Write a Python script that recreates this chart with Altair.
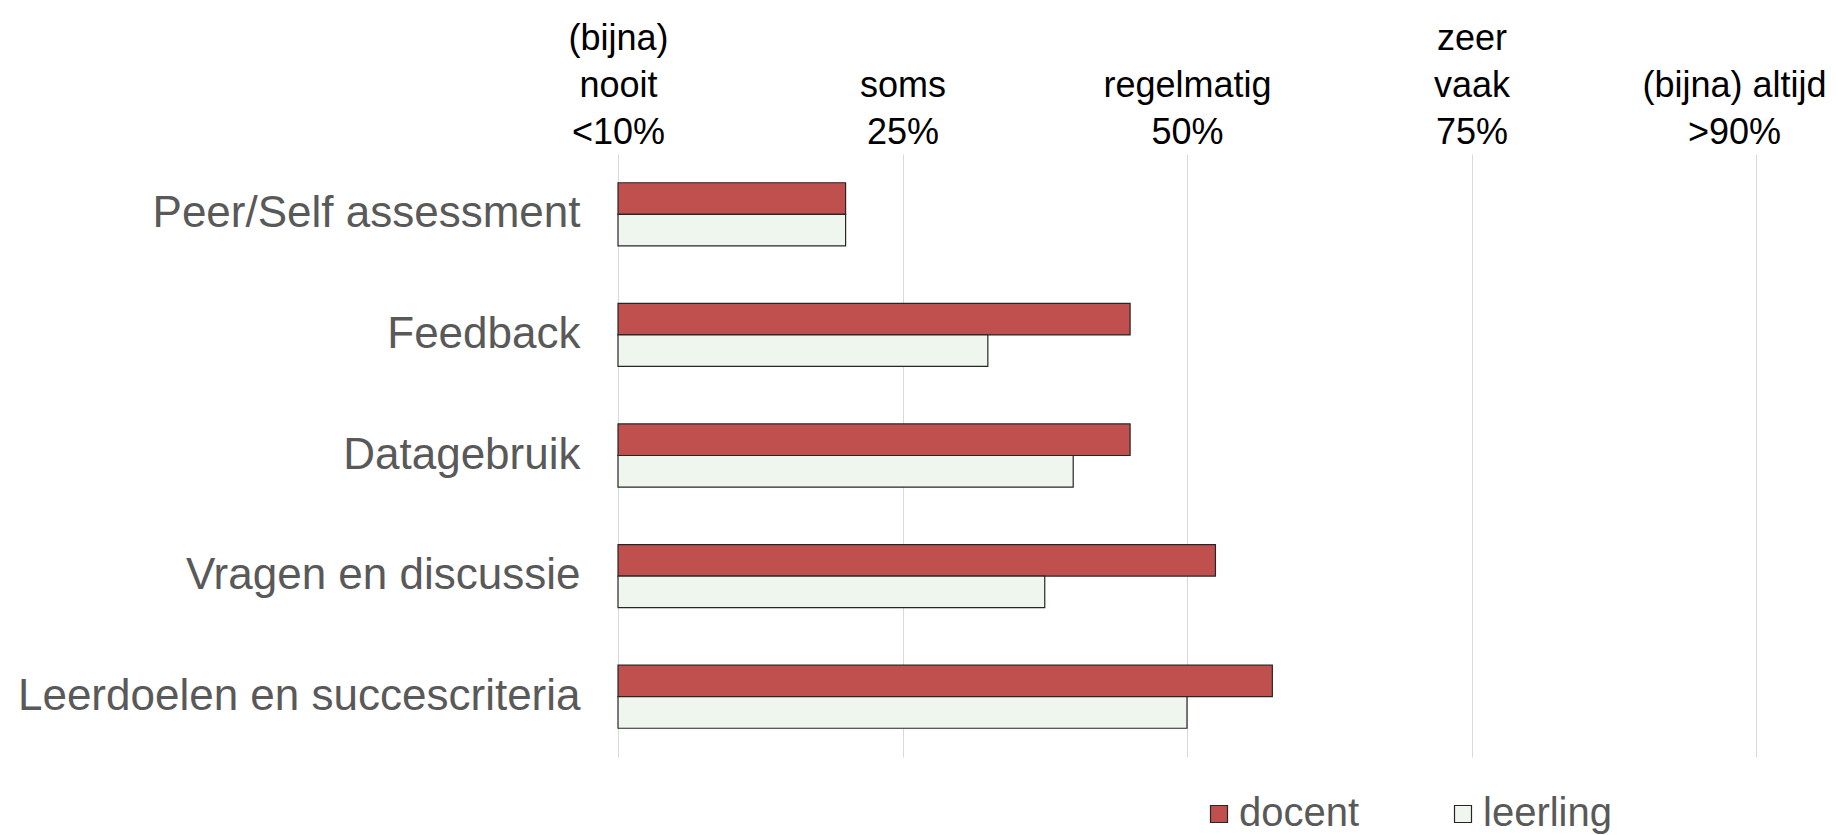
import altair as alt
import pandas as pd
import json

categories = ["Peer/Self assessment", "Feedback", "Datagebruik",
              "Vragen en discussie", "Leerdoelen en succescriteria"]
docent = [1.8, 2.8, 2.8, 3.1, 3.3]
leerling = [1.8, 2.3, 2.6, 2.5, 3.0]
series = ["docent", "leerling"]
tick_values = [1, 2, 3, 4, 5]
tick_labels = [["(bijna)", "nooit", "<10%"], ["soms", "25%"], ["regelmatig", "50%"],
               ["zeer", "vaak", "75%"], ["(bijna) altijd", ">90%"]]

rows = []
for c, d, l in zip(categories, docent, leerling):
    rows.append({"categorie": c, "groep": "docent", "waarde": d})
    rows.append({"categorie": c, "groep": "leerling", "waarde": l})
df = pd.DataFrame(rows)

n_lines = max(len(lab) for lab in tick_labels)
expr = "''"
for v, lab in reversed(list(zip(tick_values, tick_labels))):
    padded = [""] * (n_lines - len(lab)) + lab
    expr = f"datum.value == {v} ? {json.dumps(padded)} : ({expr})"

FONT = "Liberation Sans"

chart = alt.Chart(df).mark_bar(stroke="#262626", strokeWidth=1.2).encode(
    y=alt.Y("categorie:N", sort=categories, title=None,
            scale=alt.Scale(paddingInner=0.477, paddingOuter=0.2385),
            axis=alt.Axis(ticks=False, domain=False, labelFontSize=44,
                          labelColor="#595959", labelFont=FONT, labelLimit=1000,
                          labelPadding=38)),
    yOffset=alt.YOffset("groep:N", sort=series),
    x=alt.X("waarde:Q", title=None,
            scale=alt.Scale(domain=[1, 5], zero=False, nice=False),
            axis=alt.Axis(orient="top", values=tick_values, labelExpr=expr,
                          ticks=False, domain=False, grid=True, gridColor="#d9d9d9",
                          gridWidth=1, labelFontSize=36, labelFont=FONT,
                          labelColor="#000000", labelLineHeight=47,
                          labelBaseline="top", labelPadding=133,
                          labelOffset={"condition": {"test": f"datum.value == {tick_values[-1]}",
                                                     "value": -22},
                                       "value": 0},
                          labelOverlap=False, labelFlush=False,
                          labelBound=False, labelLimit=1000)),
    x2=alt.datum(1),
    color=alt.Color("groep:N", sort=series,
                    scale=alt.Scale(domain=series, range=["#c0504d", "#eff6ee"]),
                    legend=alt.Legend(title=None, orient="none", direction="horizontal",
                                      legendX=581, legendY=640, symbolType="square",
                                      symbolSize=289, symbolStrokeColor="#262626",
                                      symbolStrokeWidth=1.2, labelFontSize=40,
                                      labelFont=FONT, labelColor="#595959",
                                      labelOffset=0, columnPadding=83)),
).properties(
    width=1138, height=603,
    autosize=alt.AutoSizeParams(type="none"),
    padding={"left": 610, "top": 146, "right": 74, "bottom": 78},
).configure_view(stroke=None)

chart.save("out.html", embed_options={"renderer": "svg", "actions": False})
